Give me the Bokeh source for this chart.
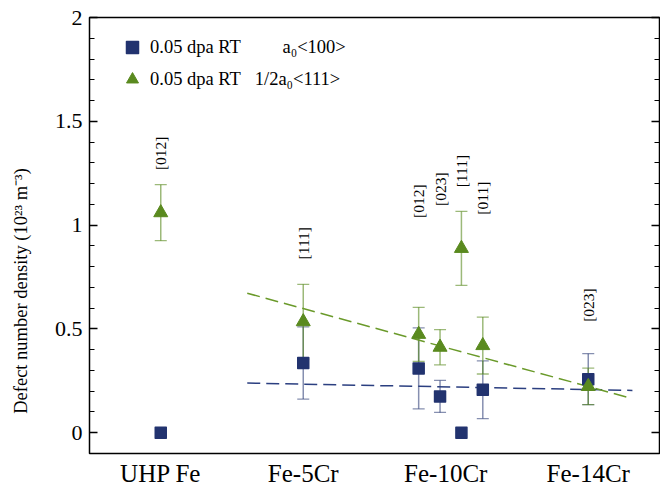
import math
from bokeh.plotting import figure
from bokeh.models import (Range1d, FixedTicker, LinearAxis, Whisker, TeeHead,
                          ColumnDataSource, Legend, LegendItem)
from bokeh.core.properties import value
from bokeh.embed import file_html
from bokeh.resources import INLINE

# ---------------- data ----------------
categories = ["UHP Fe", "Fe-5Cr", "Fe-10Cr", "Fe-14Cr"]
category_pos = [0, 1, 2, 3]

# sample positions (Fe-10Cr has four grain orientations side by side)
x_pos = [0.0, 1.0, 1.81, 1.96, 2.11, 2.26, 3.0]
orientation = ["[012]", "[111]", "[012]", "[023]", "[111]", "[011]", "[023]"]
orientation_y = [1.346, 0.913, 1.115, 1.173, 1.26, 1.13, 0.615]

# a0<100> loops
a100 = [0.0, 0.336, 0.31, 0.175, 0.0, 0.207, 0.258]
a100_err = [0.0, 0.174, 0.195, 0.077, 0.0, 0.139, 0.123]

# 1/2a0<111> loops
a111 = [1.06, 0.535, 0.474, 0.412, 0.888, 0.42, 0.223]
a111_err = [0.135, 0.18, 0.13, 0.085, 0.178, 0.137, 0.088]

# linear trend lines
fit100_x = [0.607, 3.31]
fit100_y = [0.239, 0.204]
fit111_x = [0.607, 3.275]
fit111_y = [0.672, 0.171]

y_ticks = [0, 0.5, 1, 1.5, 2]
y_tick_labels = ["0", "0.5", "1", "1.5", "2"]
y_minor = [-0.1, 0.1, 0.2, 0.3, 0.4, 0.6, 0.7, 0.8, 0.9, 1.1, 1.2, 1.3, 1.4,
           1.6, 1.7, 1.8, 1.9]

NB = "\u00a0"
label100 = "0.05 dpa RT" + NB * 9 + "a\u2080<100>"
label111 = "0.05 dpa RT" + NB * 3 + "1/2a\u2080<111>"
# trailing no-break spaces shift the title's centre down as in the original
y_title = "Defect number density (10\u00b2\u00b3 m\u207b\u00b3)" + NB * 24

# ---------------- styles ----------------
BLUE = "#22336f"
GREEN = "#5a8a1f"
FONT = "Liberation Serif"

p = figure(width=660, height=489, output_backend="svg", toolbar_location=None,
           x_range=Range1d(-0.5, 3.5), y_range=Range1d(-0.1, 2.0),
           min_border_left=89, min_border_right=1, min_border_top=17,
           min_border_bottom=36)
p.grid.visible = False
p.outline_line_color = "black"
p.outline_line_width = 1.5
p.background_fill_color = "white"
p.border_fill_color = "white"

# x axis
xa = p.xaxis[0]
xa.ticker = FixedTicker(ticks=category_pos)
xa.major_label_overrides = {c: lab for c, lab in zip(category_pos, categories)}
xa.major_tick_in = 0
xa.major_tick_out = 0
xa.minor_tick_in = 0
xa.minor_tick_out = 0
xa.axis_line_color = None
xa.major_label_text_font = FONT
xa.major_label_text_font_size = "25px"
xa.major_label_text_color = "black"
xa.major_label_standoff = 6

# left y axis
ya = p.yaxis[0]
ya.ticker = FixedTicker(ticks=y_ticks, minor_ticks=y_minor)
ya.major_label_overrides = {t: lab for t, lab in zip(y_ticks, y_tick_labels)}
ya.major_tick_in = 8
ya.major_tick_out = 0
ya.minor_tick_in = 5
ya.minor_tick_out = 0
ya.major_tick_line_width = 1.3
ya.minor_tick_line_width = 1.1
ya.major_tick_line_color = "black"
ya.minor_tick_line_color = "black"
ya.axis_line_color = None
ya.major_label_text_font = FONT
ya.major_label_text_font_size = "22px"
ya.major_label_text_color = "black"
ya.major_label_standoff = 7
ya.axis_label = y_title
ya.axis_label_text_font = FONT
ya.axis_label_text_font_size = "18.5px"
ya.axis_label_text_font_style = "normal"
ya.axis_label_text_color = "black"
ya.axis_label_standoff = 21

# right y axis (ticks only)
ra = LinearAxis(ticker=FixedTicker(ticks=y_ticks, minor_ticks=y_minor))
ra.major_tick_in = 8
ra.major_tick_out = 0
ra.minor_tick_in = 5
ra.minor_tick_out = 0
ra.major_tick_line_width = 1.3
ra.minor_tick_line_width = 1.1
ra.major_tick_line_color = "black"
ra.minor_tick_line_color = "black"
ra.axis_line_color = None
ra.major_label_text_color = None
ra.major_label_standoff = 0
p.add_layout(ra, "right")

# error bars
def whisker(xs, ys, errs, color, alpha):
    keep = [i for i in range(len(xs)) if errs[i] > 0]
    src = ColumnDataSource(dict(
        x=[xs[i] for i in keep],
        upper=[ys[i] + errs[i] for i in keep],
        lower=[ys[i] - errs[i] for i in keep]))
    head = dict(size=12, line_color=color, line_alpha=alpha, line_width=1.3)
    w = Whisker(source=src, base="x", upper="upper", lower="lower",
                dimension="height", line_color=color, line_alpha=alpha,
                line_width=1.5,
                upper_head=TeeHead(**head), lower_head=TeeHead(**head))
    p.add_layout(w)

whisker(x_pos, a100, a100_err, BLUE, 0.55)
whisker(x_pos, a111, a111_err, GREEN, 0.6)

# trend lines
p.line(fit100_x, fit100_y, line_color="#2b3f80", line_width=1.5, line_dash="13 6")
p.line(fit111_x, fit111_y, line_color="#6a9a2a", line_width=1.5, line_dash="13 6")

# markers
sq = p.scatter(x_pos, a100, marker="square", size=11, fill_color=BLUE,
               line_color=BLUE, line_width=1.5, line_join="round")
tr = p.scatter(x_pos, a111, marker="triangle", size=14, fill_color=GREEN,
               line_color=GREEN, line_width=1)

# orientation annotations
p.text(x=x_pos, y=orientation_y, text=orientation, angle=math.pi / 2,
       text_align="center", text_baseline="middle",
       text_font=value(FONT), text_font_size="15.5px", text_color="black")

# legend
legend = Legend(items=[LegendItem(label=label100, renderers=[sq]),
                       LegendItem(label=label111, renderers=[tr])],
                location=(28, 359), orientation="vertical",
                glyph_width=30, glyph_height=30, label_standoff=3,
                spacing=2, padding=0, margin=0,
                label_text_font=FONT, label_text_font_size="18.5px",
                label_text_color="black",
                border_line_color=None, background_fill_alpha=0)
p.add_layout(legend)

open("out.html", "w").write(file_html(p, INLINE))
